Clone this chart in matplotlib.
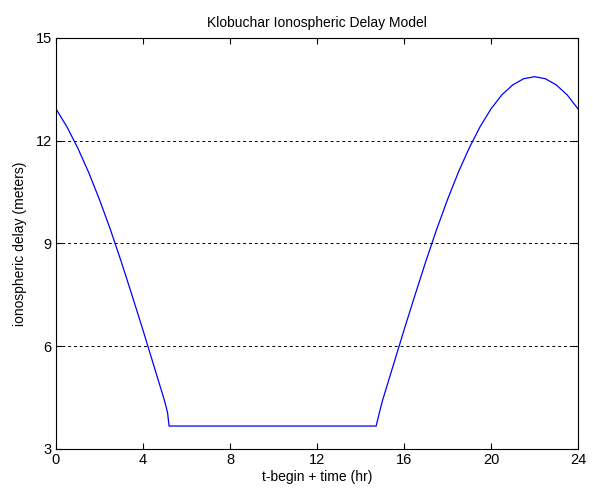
import matplotlib
matplotlib.use('Agg')
import matplotlib.pyplot as plt

# values
t_hr = [0, 0.5, 1, 1.5, 2, 2.5, 3, 3.5, 4, 4.5, 5, 5.13, 5.2,
        14.72, 14.87, 15, 15.5, 16, 16.5, 17, 17.5, 18, 18.5, 19, 19.5,
        20, 20.5, 21, 21.5, 22, 22.5, 23, 23.5, 24]
delay_m = [12.93, 12.41, 11.79, 11.08, 10.28, 9.41, 8.47, 7.48, 6.47, 5.43, 4.39, 4.06, 3.67,
           3.67, 4.06, 4.39, 5.43, 6.47, 7.48, 8.47, 9.41, 10.28, 11.08, 11.79, 12.41,
           12.93, 13.34, 13.63, 13.81, 13.87, 13.81, 13.63, 13.34, 12.93]
x_ticks = [0, 4, 8, 12, 16, 20, 24]
y_ticks = [3, 6, 9, 12, 15]

plt.rcParams['font.family'] = ['Liberation Sans', 'DejaVu Sans']

fig = plt.figure(figsize=(5.93, 4.9), dpi=100)
ax = fig.add_axes([0.0944, 0.0837, 0.8803, 0.8388])

ax.plot(t_hr, delay_m, color='#0000ff', lw=0.9)

ax.set_xlim(0, 24)
ax.set_ylim(3, 15)
ax.set_xticks(x_ticks)
ax.set_yticks(y_ticks)
ax.tick_params(direction='in', top=True, right=True, length=4, width=0.8,
               labelsize=10.5, pad=3)
ax.yaxis.grid(True, linestyle=(0, (3, 3)), color='black', lw=0.7)
for s in ax.spines.values():
    s.set_linewidth(0.8)

ax.set_title('Klobuchar Ionospheric Delay Model', fontsize=10, pad=8)
ax.set_xlabel('t-begin + time (hr)', fontsize=10, labelpad=2)
ax.set_ylabel('ionospheric delay (meters)', fontsize=10, labelpad=6)

fig.savefig('out.png', dpi=100)
